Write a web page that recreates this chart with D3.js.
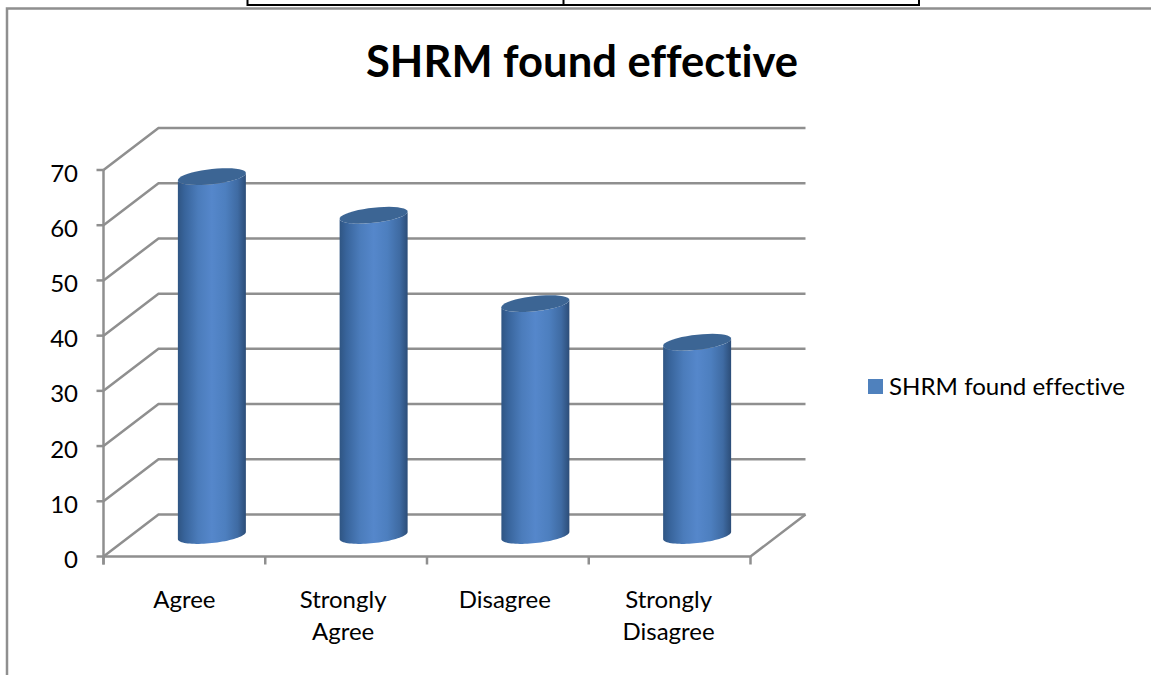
<!DOCTYPE html>
<html><head><meta charset="utf-8">
<script src="https://cdn.jsdelivr.net/npm/d3@7/dist/d3.min.js"></script>
<style>html,body{margin:0;padding:0;background:#fff}svg{display:block}text{font-family:"Lato","Noto Sans",sans-serif;fill:#000;font-variant-ligatures:none}</style>
</head><body><svg id="c" width="1151" height="675"></svg>
<script>
const categories=[["Agree"],["Strongly","Agree"],["Disagree"],["Strongly","Disagree"]];
const labelNudge=[0,-3,-3,-1];
const values=[65,58,42,35];
const ticks=[0,10,20,30,40,50,60,70];
const seriesName="SHRM found effective";
const titleText="SHRM found effective";
const gridColor="#8f8f8f";

const svg=d3.select("#c");
const defs=svg.append("defs");
const grad=defs.append("linearGradient").attr("id","cyl").attr("x1",0).attr("x2",1).attr("y1",0).attr("y2",0);
[[0,"#2f5583"],[.1,"#38649b"],[.3,"#4b7cbb"],[.5,"#5587cb"],[.7,"#4d7fbf"],[.88,"#3f6ba3"],[1,"#2c4d78"]]
 .forEach(([o,c])=>grad.append("stop").attr("offset",o).attr("stop-color",c));

svg.append("path").attr("d","M7 675V8.5H1151").attr("fill","none").attr("stroke",gridColor).attr("stroke-width",2.5);
svg.append("path").attr("d","M247.5 0V5H919V0M563.5 0V5").attr("fill","none").attr("stroke","#000").attr("stroke-width",2);

const y=d3.scaleLinear().domain([0,70]).range([556.5,170]);
const x=d3.scaleBand().domain(d3.range(categories.length)).range([103.5,750.5]);
const dx=55,dy=-42;
const grid=svg.append("g").attr("fill","none").attr("stroke",gridColor).attr("stroke-width",2.5);
ticks.forEach(t=>{
  grid.append("path").attr("d",`M${x.range()[0]} ${y(t)}l${dx} ${dy}H${x.range()[1]+dx}`);
  grid.append("path").attr("d",`M${x.range()[0]-7} ${y(t)}H${x.range()[0]}`);
});
grid.append("path").attr("d",`M${x.range()[0]} ${y(70)}V${y(0)+8}`);
grid.append("path").attr("d",`M${x.range()[0]} ${y(0)}H${x.range()[1]}l${dx} ${dy}`);
d3.range(categories.length+1).forEach(i=>{
  const px=x.range()[0]+i*x.step();
  grid.append("path").attr("d",`M${px} ${y(0)}v8`);
});

svg.append("g").selectAll("text").data(ticks).join("text")
  .attr("x",78).attr("y",d=>y(d)+11.5).attr("text-anchor","end").attr("font-size",24).text(d=>d);

const rx=34,ry=7.6,shear=3.6;
const ell=(cx,cy,a0,a1)=>d3.range(0,41).map(i=>{const t=a0+(a1-a0)*i/40;return [cx+rx*Math.cos(t),cy+ry*Math.sin(t)-shear*Math.cos(t)];});
const line=d3.line();
const cyl=svg.append("g");
values.forEach((v,i)=>{
  const cx=x(i)+x.bandwidth()/2+27.5;
  const cy0=y(0)+dy/2, cyT=y(v)+dy/2;
  const body=[...ell(cx,cyT,Math.PI,0),...ell(cx,cy0,0,Math.PI)];
  cyl.append("path").attr("d",line(body)+"Z").attr("fill","url(#cyl)");
  cyl.append("path").attr("d",line(ell(cx,cyT,0,2*Math.PI))+"Z").attr("fill","#3c6594");
});

const lab=svg.append("g").attr("text-anchor","middle").attr("font-size",24);
categories.forEach((c,i)=>{
  const cx=x(i)+x.bandwidth()/2+labelNudge[i];
  const t=lab.append("text").attr("x",cx);
  c.forEach((s,j)=>t.append("tspan").attr("x",cx).attr("y",608+j*31.5).text(s));
});

svg.append("rect").attr("x",868).attr("y",379).attr("width",15).attr("height",15).attr("fill","#4f81bd");
svg.append("text").attr("x",889).attr("y",395).attr("font-size",24).attr("textLength",236).attr("lengthAdjust","spacingAndGlyphs").text(seriesName);
svg.append("text").attr("x",366).attr("y",77).attr("font-size",44).attr("font-weight",700).attr("textLength",432).attr("lengthAdjust","spacingAndGlyphs").text(titleText);
</script></body></html>
